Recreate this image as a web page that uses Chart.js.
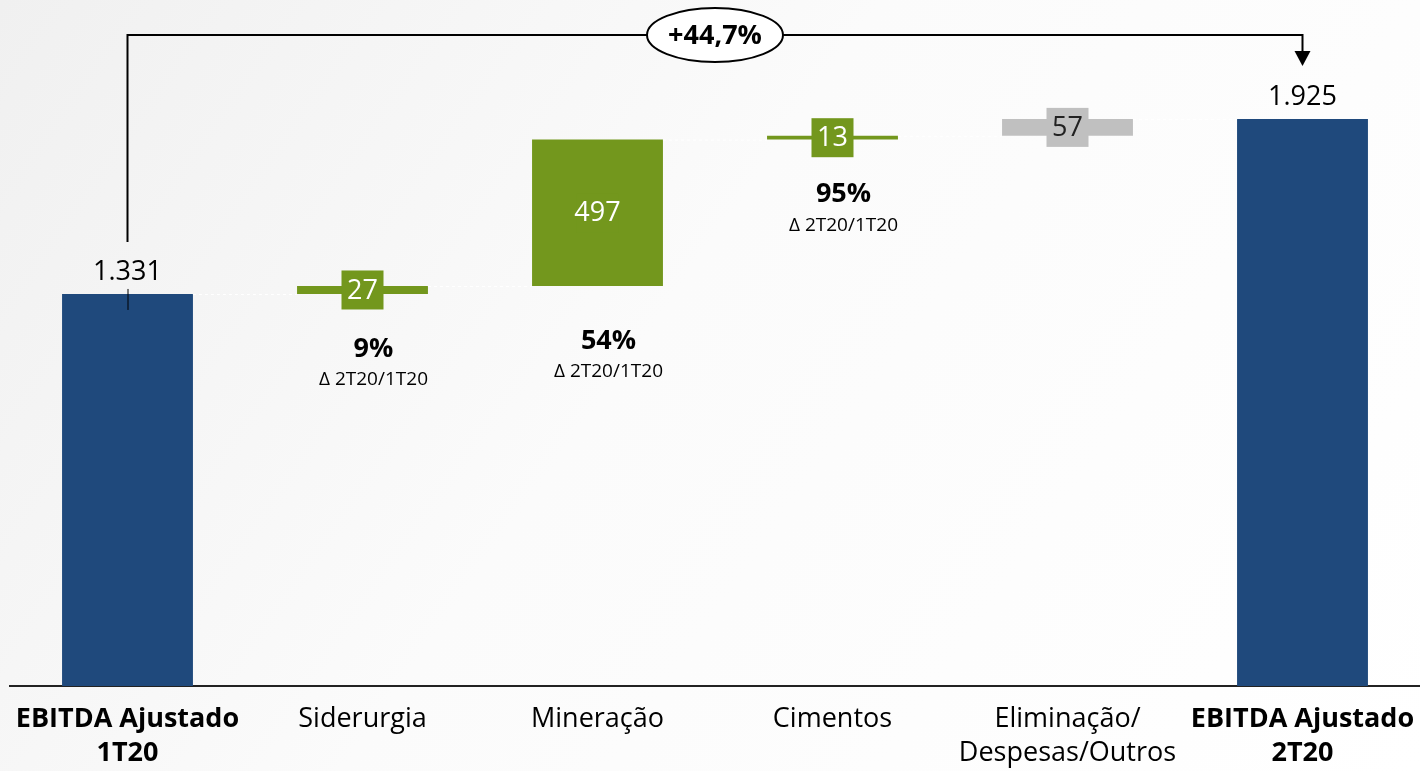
<!DOCTYPE html>
<html>
<head>
<meta charset="utf-8">
<script src="https://cdn.jsdelivr.net/npm/chart.js@4/dist/chart.umd.min.js"></script>
<style>
  html, body { margin: 0; padding: 0; }
  body {
    width: 1420px; height: 771px; overflow: hidden;
    background: linear-gradient(125deg, #f0f0f0 0%, #fbfbfb 45%, #ffffff 100%);
  }
  canvas { display: block; }
</style>
</head>
<body>
<canvas id="waterfall" width="1420" height="771"></canvas>
<script>
const categories = [['EBITDA Ajustado', '1T20'], 'Siderurgia', 'Mineração', 'Cimentos', ['Eliminação/', 'Despesas/Outros'], ['EBITDA Ajustado', '2T20']];
const values = [1331, 27, 497, 13, 57, 1925];
const isTotal = [true, false, false, false, false, true];
const valueLabels = ['1.331', '27', '497', '13', '57', '1.925'];
const pctLabels = [null, '9%', '54%', '95%', null, null];
const pctSubLabel = 'Δ 2T20/1T20';
const totalChange = '+44,7%';

const colors = {
  total: '#1f497c',
  up: '#73971d',
  other: '#c0c0c0'
};
const barColors = [colors.total, colors.up, colors.up, colors.up, colors.other, colors.total];
const FONT = "'Open Sans', 'Noto Sans', sans-serif";

// floating bars: totals start at zero, deltas start where the previous bar ended
let running = 0;
const floating = values.map((v, i) => {
  if (isTotal[i]) {
    running = v;
    return [0, v];
  }
  const start = running;
  running += v;
  return [start, running];
});

const labelsPlugin = {
  id: 'waterfallLabels',
  afterDatasetsDraw(chart) {
    const ctx = chart.ctx;
    const bars = chart.getDatasetMeta(0).data;
    ctx.save();
    ctx.textAlign = 'center';
    ctx.textBaseline = 'middle';

    // faint connectors between bars
    ctx.strokeStyle = '#ffffff';
    ctx.lineWidth = 1;
    ctx.setLineDash([3, 3]);
    for (let i = 0; i < bars.length - 1; i++) {
      const a = bars[i], b = bars[i + 1];
      ctx.beginPath();
      ctx.moveTo(a.x + a.width / 2, a.y + 0.5);
      ctx.lineTo(b.x - b.width / 2, a.y + 0.5);
      ctx.stroke();
    }
    ctx.setLineDash([]);

    bars.forEach((bar, i) => {
      if (isTotal[i]) {
        ctx.fillStyle = '#000';
        ctx.font = '27px ' + FONT;
        ctx.fillText(valueLabels[i], bar.x, bar.y - 22);
        return;
      }
      const cy = (bar.y + bar.base) / 2;
      ctx.fillStyle = barColors[i];
      ctx.fillRect(bar.x - 21, cy - 19.5, 42, 39);
      ctx.fillStyle = barColors[i] === colors.other ? '#222' : '#fff';
      ctx.font = '27px ' + FONT;
      ctx.fillText(valueLabels[i], bar.x, cy + 1);

      if (pctLabels[i]) {
        // the growth notes sit a little right of the bar centre
        const px = bar.x + 11;
        ctx.fillStyle = '#000';
        ctx.font = 'bold 27px ' + FONT;
        ctx.fillText(pctLabels[i], px, bar.base + 55);
        ctx.font = '19px ' + FONT;
        ctx.fillText(pctSubLabel, px, bar.base + 86);
      }
    });

    // bracket from first total to last total
    const first = bars[0], last = bars[bars.length - 1];
    const topY = 35;
    ctx.strokeStyle = '#000';
    ctx.lineWidth = 2;
    ctx.beginPath();
    ctx.moveTo(first.x, first.y - 52);
    ctx.lineTo(first.x, topY);
    ctx.lineTo(last.x, topY);
    ctx.lineTo(last.x, last.y - 66);
    ctx.stroke();

    ctx.fillStyle = '#000';
    ctx.beginPath();
    ctx.moveTo(last.x - 8, last.y - 68);
    ctx.lineTo(last.x + 8, last.y - 68);
    ctx.lineTo(last.x, last.y - 53);
    ctx.closePath();
    ctx.fill();

    ctx.lineWidth = 1;
    ctx.beginPath();
    ctx.moveTo(first.x + 0.5, first.y - 5);
    ctx.lineTo(first.x + 0.5, first.y + 16);
    ctx.stroke();

    const mx = (first.x + last.x) / 2;
    ctx.fillStyle = '#fff';
    ctx.lineWidth = 2;
    ctx.beginPath();
    ctx.ellipse(mx, topY, 68, 27, 0, 0, Math.PI * 2);
    ctx.fill();
    ctx.stroke();
    ctx.fillStyle = '#000';
    ctx.font = 'bold 27px ' + FONT;
    ctx.fillText(totalChange, mx, topY + 1);

    ctx.restore();
  }
};

new Chart(document.getElementById('waterfall'), {
  type: 'bar',
  data: {
    labels: categories,
    datasets: [{
      data: floating,
      backgroundColor: barColors,
      borderWidth: 0,
      categoryPercentage: 1,
      barPercentage: 0.557
    }]
  },
  options: {
    responsive: false,
    devicePixelRatio: 1,
    animation: false,
    layout: { padding: { left: 10, right: -3, top: 0, bottom: 0 } },
    plugins: {
      legend: { display: false },
      tooltip: { enabled: false }
    },
    scales: {
      x: {
        afterFit(scale) {
          scale.height = 85;
          scale.paddingLeft = 0;
          scale.paddingRight = 0;
        },
        grid: { display: false, drawTicks: false },
        border: { display: true, color: '#222', width: 2 },
        ticks: {
          padding: 16,
          color: '#000',
          font: (c) => ({
            family: FONT,
            size: 27,
            lineHeight: 1.26,
            weight: (c.index === 0 || c.index === 5) ? 'bold' : 'normal'
          })
        }
      },
      y: {
        display: false,
        min: 0,
        max: 2329
      }
    }
  },
  plugins: [labelsPlugin]
});
</script>
</body>
</html>
